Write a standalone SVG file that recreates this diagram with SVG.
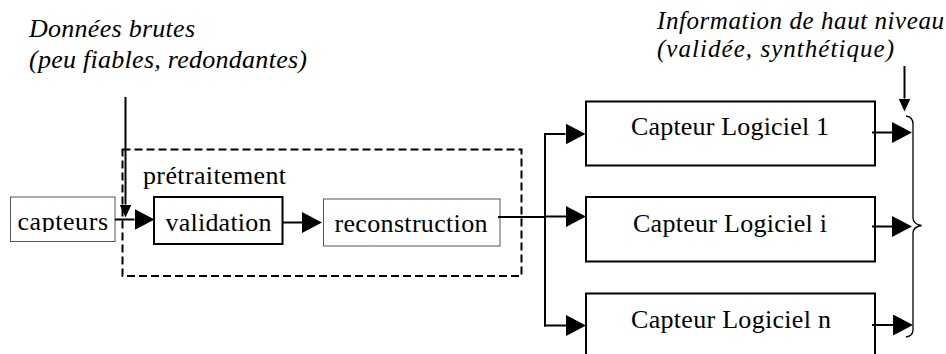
<svg xmlns="http://www.w3.org/2000/svg" width="946" height="354" viewBox="0 0 946 354">
<defs>
<style>
text{font-family:"Liberation Serif","Times New Roman",serif;font-size:26px;fill:#000}
.it{font-style:italic}
.it25{font-size:25px}
.box{fill:#fff;stroke:#000;stroke-width:2}
.gbox{fill:#fff;stroke:#555;stroke-width:1}
.dash{fill:none;stroke:#000;stroke-width:2;stroke-dasharray:8 4}
.ln{fill:none;stroke:#000;stroke-width:2}
.big{marker-end:url(#ah)}
.sml{marker-end:url(#as)}
</style>
<marker id="ah" markerUnits="userSpaceOnUse" markerWidth="20" markerHeight="21" viewBox="0 0 20 21" refX="0" refY="10.5" orient="auto"><path d="M0,0 L20,10.5 L0,21 Z" fill="#000"/></marker>
<marker id="as" markerUnits="userSpaceOnUse" markerWidth="13" markerHeight="12" viewBox="0 0 13 12" refX="0" refY="6" orient="auto"><path d="M0,0 L13,6 L0,12 Z" fill="#000"/></marker>
<clipPath id="capclip"><rect x="10" y="190" width="110" height="42"/></clipPath>
</defs>
<rect width="946" height="354" fill="#fff"/>

<g id="labels">
<text class="it" x="29" y="37" textLength="166" lengthAdjust="spacing">Données brutes</text>
<text class="it" x="29" y="68" textLength="278" lengthAdjust="spacing">(peu fiables, redondantes)</text>
<text class="it it25" x="657" y="28.5" textLength="287" lengthAdjust="spacing">Information de haut niveau</text>
<text class="it it25" x="657" y="57" textLength="237" lengthAdjust="spacing">(validée, synthétique)</text>
</g>

<g id="pretraitement">
<rect class="dash" x="122.5" y="149.5" width="399" height="126.5"/>
<text x="143" y="183.5" textLength="143" lengthAdjust="spacing">prétraitement</text>
</g>

<g id="capteurs">
<rect class="gbox" x="10.5" y="197" width="104.5" height="44.5"/>
<text x="17.5" y="229.5" clip-path="url(#capclip)" textLength="90.5" lengthAdjust="spacing">capteurs</text>
</g>

<g id="validation">
<rect class="box" x="154" y="197" width="128.5" height="47"/>
<text x="165.5" y="231" textLength="106" lengthAdjust="spacing">validation</text>
</g>

<g id="reconstruction">
<rect class="gbox" x="323.5" y="199" width="176.5" height="47"/>
<text x="334.5" y="231.5" textLength="153" lengthAdjust="spacing">reconstruction</text>
</g>

<g id="cl1">
<rect class="box" x="586" y="101.5" width="289" height="64"/>
<text x="631" y="135" textLength="198" lengthAdjust="spacing">Capteur Logiciel 1</text>
</g>

<g id="cli">
<rect class="box" x="586" y="197" width="289" height="64.5"/>
<text x="633" y="231.5" textLength="194" lengthAdjust="spacing">Capteur Logiciel i</text>
</g>

<g id="cln">
<rect class="box" x="586" y="293.5" width="289" height="64"/>
<text x="631" y="328" textLength="200" lengthAdjust="spacing">Capteur Logiciel n</text>
</g>

<g id="connectors">
<path class="ln sml" d="M125.5,97 V204.5"/>
<path class="ln big" d="M115,219.5 H134.5"/>
<path class="ln big" d="M283,222.5 H302"/>
<path class="ln" d="M498,217 H545 M545,133 V326.5"/>
<path class="ln big" d="M544,134 H565.5"/>
<path class="ln big" d="M545,216.5 H566"/>
<path class="ln big" d="M544,325.5 H566"/>
<path class="ln big" d="M872,132.5 H892"/>
<path class="ln big" d="M872,226.5 H892"/>
<path class="ln big" d="M872,325 H893"/>
<path class="ln sml" d="M904.5,66 V98.5"/>
<path d="M906,116 Q913,117 913,124 V218 Q913,224 921.5,225.5 Q913,227 913,233 V330 Q913,336 906,337" fill="none" stroke="#000" stroke-width="1.3"/>
</g>
</svg>
